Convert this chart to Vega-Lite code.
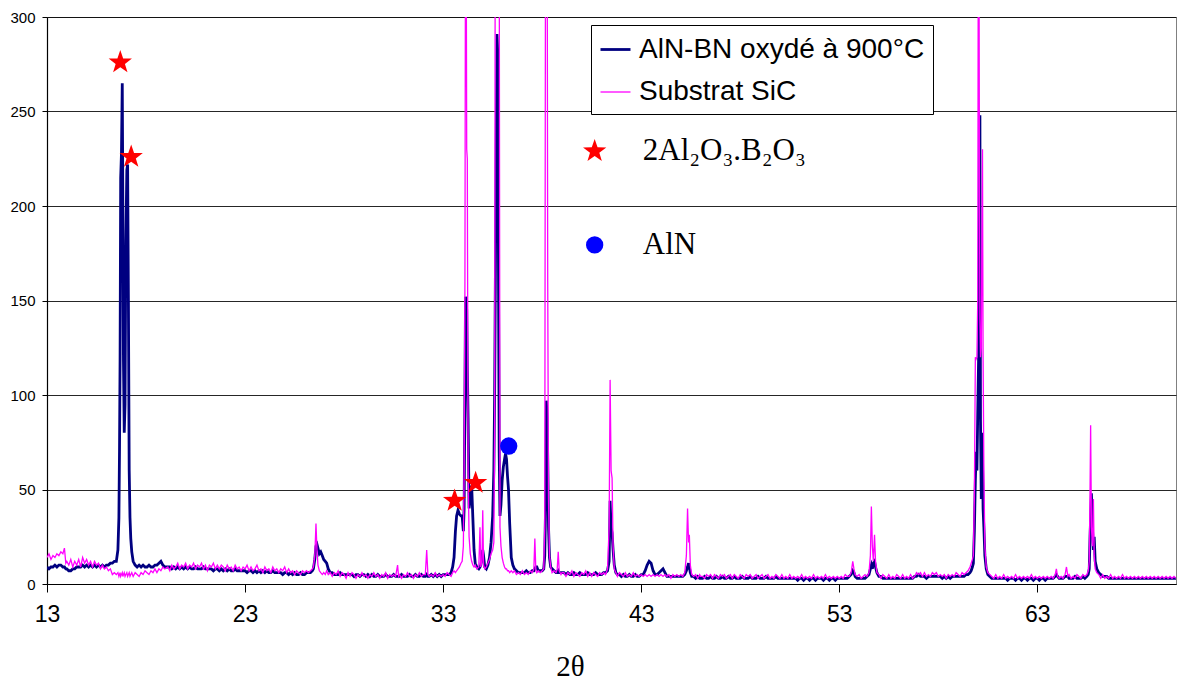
{
  "$schema": "https://vega.github.io/schema/vega-lite/v6.json",
  "width": 1129,
  "height": 567,
  "autosize": {"type": "none"},
  "padding": {"left": 47, "top": 17, "right": 2, "bottom": 99},
  "background": "white",
  "config": {
    "font": "Liberation Sans",
    "view": {"stroke": "#808080", "strokeWidth": 1},
    "axis": {"domainColor": "black", "tickColor": "black", "labelColor": "black", "titleColor": "black"}
  },
  "datasets": {
    "spectra": [
      {"x":13.0,"a":9,"b":14},{"x":13.1,"a":8,"b":16},{"x":13.2,"a":9,"b":13},{"x":13.3,"a":9,"b":15},{"x":13.4,"a":10,"b":14},
      {"x":13.5,"a":9,"b":16},{"x":13.6,"a":10,"b":15},{"x":13.7,"a":10,"b":17},{"x":13.8,"a":9,"b":16},{"x":13.88,"a":9,"b":19},
      {"x":13.95,"a":8,"b":11},{"x":14.0,"a":8,"b":12},{"x":14.1,"a":7,"b":10},{"x":14.2,"a":7,"b":13},{"x":14.3,"a":8,"b":9},
      {"x":14.4,"a":8,"b":12},{"x":14.5,"a":9,"b":10},{"x":14.6,"a":9,"b":13},{"x":14.7,"a":9,"b":9},{"x":14.8,"a":10,"b":14},
      {"x":14.9,"a":9,"b":11},{"x":15.0,"a":10,"b":13},{"x":15.1,"a":9,"b":10},{"x":15.2,"a":10,"b":12},{"x":15.3,"a":9,"b":9},
      {"x":15.4,"a":10,"b":12},{"x":15.5,"a":9,"b":10},{"x":15.6,"a":10,"b":11},{"x":15.7,"a":9,"b":8},{"x":15.8,"a":10,"b":10},
      {"x":15.9,"a":9,"b":8},{"x":16.0,"a":10,"b":9},{"x":16.1,"a":10,"b":7},{"x":16.2,"a":11,"b":8},{"x":16.3,"a":11,"b":5},
      {"x":16.4,"a":12,"b":6},{"x":16.5,"a":12,"b":5},{"x":16.58,"a":18,"b":6},{"x":16.63,"a":35,"b":4},{"x":16.66,"a":70,"b":5},
      {"x":16.69,"a":120,"b":6},{"x":16.72,"a":215,"b":4},{"x":16.76,"a":228,"b":5},{"x":16.8,"a":265,"b":6},{"x":16.83,"a":200,"b":4},
      {"x":16.86,"a":118,"b":5},{"x":16.9,"a":80,"b":6},{"x":16.94,"a":95,"b":4},{"x":16.98,"a":180,"b":5},{"x":17.03,"a":219,"b":6},
      {"x":17.07,"a":222,"b":4},{"x":17.11,"a":150,"b":5},{"x":17.15,"a":60,"b":6},{"x":17.19,"a":35,"b":4},{"x":17.23,"a":24,"b":5},
      {"x":17.28,"a":17,"b":6},{"x":17.35,"a":12,"b":4},{"x":17.45,"a":10,"b":6},{"x":17.55,"a":9,"b":5},{"x":17.65,"a":10,"b":4},
      {"x":17.75,"a":9,"b":6},{"x":17.85,"a":10,"b":5},{"x":17.95,"a":9,"b":7},{"x":18.05,"a":9,"b":6},{"x":18.15,"a":10,"b":5},
      {"x":18.25,"a":9,"b":7},{"x":18.35,"a":9,"b":6},{"x":18.45,"a":10,"b":8},{"x":18.55,"a":10,"b":6},{"x":18.65,"a":11,"b":8},
      {"x":18.75,"a":12,"b":7},{"x":18.85,"a":10,"b":9},{"x":18.95,"a":9,"b":8},{"x":19.1,"a":9,"b":9},{"x":19.2,"a":9,"b":7},
      {"x":19.3,"a":8,"b":10},{"x":19.4,"a":9,"b":8},{"x":19.5,"a":8,"b":9},{"x":19.6,"a":9,"b":11},{"x":19.7,"a":8,"b":8},
      {"x":19.8,"a":9,"b":10},{"x":19.9,"a":8,"b":9},{"x":20.0,"a":9,"b":11},{"x":20.1,"a":8,"b":8},{"x":20.2,"a":9,"b":10},
      {"x":20.3,"a":8,"b":9},{"x":20.4,"a":8,"b":11},{"x":20.5,"a":9,"b":8},{"x":20.6,"a":8,"b":10},{"x":20.7,"a":8,"b":9},
      {"x":20.8,"a":8,"b":11},{"x":20.9,"a":9,"b":8},{"x":21.0,"a":8,"b":10},{"x":21.1,"a":8,"b":7},{"x":21.2,"a":8,"b":10},
      {"x":21.3,"a":8,"b":9},{"x":21.4,"a":7,"b":11},{"x":21.5,"a":8,"b":8},{"x":21.6,"a":8,"b":10},{"x":21.7,"a":7,"b":8},
      {"x":21.8,"a":8,"b":10},{"x":21.9,"a":7,"b":9},{"x":22.0,"a":8,"b":7},{"x":22.1,"a":7,"b":10},{"x":22.2,"a":8,"b":8},
      {"x":22.3,"a":7,"b":9},{"x":22.4,"a":7,"b":7},{"x":22.5,"a":8,"b":10},{"x":22.6,"a":7,"b":8},{"x":22.7,"a":7,"b":9},
      {"x":22.8,"a":7,"b":7},{"x":22.9,"a":7,"b":9},{"x":23.0,"a":7,"b":8},{"x":23.1,"a":6,"b":10},{"x":23.2,"a":7,"b":7},
      {"x":23.3,"a":7,"b":9},{"x":23.4,"a":6,"b":7},{"x":23.5,"a":7,"b":8},{"x":23.6,"a":6,"b":10},{"x":23.7,"a":7,"b":7},
      {"x":23.8,"a":6,"b":8},{"x":23.9,"a":7,"b":6},{"x":24.0,"a":6,"b":9},{"x":24.1,"a":7,"b":7},{"x":24.2,"a":6,"b":8},
      {"x":24.3,"a":6,"b":6},{"x":24.4,"a":7,"b":9},{"x":24.5,"a":6,"b":7},{"x":24.6,"a":6,"b":8},{"x":24.7,"a":6,"b":6},
      {"x":24.8,"a":6,"b":8},{"x":24.9,"a":5,"b":7},{"x":25.0,"a":6,"b":9},{"x":25.1,"a":6,"b":6},{"x":25.2,"a":5,"b":8},
      {"x":25.3,"a":6,"b":6},{"x":25.4,"a":5,"b":7},{"x":25.5,"a":6,"b":5},{"x":25.6,"a":5,"b":7},{"x":25.7,"a":5,"b":6},
      {"x":25.8,"a":6,"b":5},{"x":25.9,"a":5,"b":7},{"x":26.0,"a":5,"b":6},{"x":26.1,"a":6,"b":7},{"x":26.2,"a":6,"b":6},
      {"x":26.3,"a":6,"b":7},{"x":26.4,"a":7,"b":8},{"x":26.45,"a":8,"b":9},{"x":26.52,"a":13,"b":15},{"x":26.58,"a":20,"b":32},
      {"x":26.63,"a":21,"b":18},{"x":26.68,"a":19,"b":10},{"x":26.75,"a":16,"b":7},{"x":26.82,"a":17,"b":6},{"x":26.9,"a":15,"b":5},
      {"x":26.97,"a":13,"b":6},{"x":27.05,"a":12,"b":5},{"x":27.12,"a":11,"b":7},{"x":27.2,"a":8,"b":5},{"x":27.3,"a":6,"b":6},
      {"x":27.4,"a":6,"b":4},{"x":27.5,"a":5,"b":6},{"x":27.6,"a":5,"b":5},{"x":27.7,"a":5,"b":7},{"x":27.8,"a":6,"b":4},
      {"x":27.9,"a":5,"b":6},{"x":28.0,"a":5,"b":5},{"x":28.1,"a":5,"b":3},{"x":28.2,"a":5,"b":6},{"x":28.3,"a":5,"b":4},
      {"x":28.4,"a":5,"b":6},{"x":28.5,"a":4,"b":5},{"x":28.6,"a":5,"b":3},{"x":28.7,"a":5,"b":5},{"x":28.8,"a":4,"b":4},
      {"x":28.9,"a":5,"b":6},{"x":29.0,"a":5,"b":4},{"x":29.1,"a":4,"b":5},{"x":29.2,"a":5,"b":3},{"x":29.3,"a":4,"b":5},
      {"x":29.4,"a":5,"b":4},{"x":29.5,"a":4,"b":6},{"x":29.6,"a":4,"b":4},{"x":29.7,"a":5,"b":5},{"x":29.8,"a":4,"b":3},
      {"x":29.9,"a":4,"b":5},{"x":30.0,"a":4,"b":4},{"x":30.1,"a":5,"b":6},{"x":30.2,"a":4,"b":3},{"x":30.3,"a":4,"b":5},
      {"x":30.4,"a":4,"b":4},{"x":30.5,"a":5,"b":5},{"x":30.6,"a":4,"b":4},{"x":30.7,"a":4,"b":10},{"x":30.75,"a":4,"b":4},
      {"x":30.8,"a":4,"b":5},{"x":30.9,"a":5,"b":3},{"x":31.0,"a":4,"b":5},{"x":31.1,"a":4,"b":4},{"x":31.2,"a":4,"b":6},
      {"x":31.3,"a":5,"b":4},{"x":31.4,"a":4,"b":5},{"x":31.5,"a":4,"b":3},{"x":31.6,"a":5,"b":5},{"x":31.7,"a":4,"b":4},
      {"x":31.8,"a":4,"b":6},{"x":31.9,"a":5,"b":4},{"x":32.0,"a":4,"b":5},{"x":32.1,"a":4,"b":5},{"x":32.17,"a":5,"b":18},
      {"x":32.23,"a":4,"b":5},{"x":32.3,"a":4,"b":4},{"x":32.4,"a":5,"b":5},{"x":32.5,"a":4,"b":4},{"x":32.6,"a":5,"b":6},
      {"x":32.7,"a":4,"b":4},{"x":32.8,"a":5,"b":5},{"x":32.9,"a":4,"b":4},{"x":33.0,"a":5,"b":5},{"x":33.1,"a":5,"b":4},
      {"x":33.2,"a":5,"b":6},{"x":33.3,"a":5,"b":5},{"x":33.4,"a":6,"b":4},{"x":33.48,"a":9,"b":6},{"x":33.55,"a":14,"b":7},
      {"x":33.62,"a":28,"b":6},{"x":33.68,"a":36,"b":7},{"x":33.75,"a":39,"b":8},{"x":33.82,"a":37,"b":9},{"x":33.9,"a":36,"b":11},
      {"x":33.96,"a":36,"b":12},{"x":34.02,"a":28,"b":20},{"x":34.06,"a":40,"b":60},{"x":34.1,"a":100,"b":160},{"x":34.13,"a":152,"b":360},
      {"x":34.16,"a":150,"b":360},{"x":34.19,"a":145,"b":230},{"x":34.22,"a":115,"b":225},{"x":34.26,"a":88,"b":60},{"x":34.31,"a":40,"b":25},
      {"x":34.37,"a":45,"b":16},{"x":34.44,"a":52,"b":12},{"x":34.5,"a":35,"b":10},{"x":34.56,"a":18,"b":9},{"x":34.62,"a":11,"b":10},
      {"x":34.7,"a":9,"b":8},{"x":34.8,"a":8,"b":9},{"x":34.86,"a":9,"b":30},{"x":34.9,"a":10,"b":9},{"x":34.96,"a":14,"b":12},
      {"x":35.0,"a":18,"b":39},{"x":35.04,"a":15,"b":10},{"x":35.1,"a":9,"b":8},{"x":35.18,"a":8,"b":9},{"x":35.26,"a":10,"b":11},
      {"x":35.34,"a":14,"b":13},{"x":35.42,"a":22,"b":16},{"x":35.5,"a":36,"b":18},{"x":35.56,"a":60,"b":22},{"x":35.6,"a":100,"b":80},
      {"x":35.63,"a":150,"b":360},{"x":35.67,"a":220,"b":360},{"x":35.72,"a":291,"b":360},{"x":35.76,"a":280,"b":360},{"x":35.8,"a":150,"b":360},
      {"x":35.83,"a":70,"b":360},{"x":35.87,"a":36,"b":30},{"x":35.92,"a":42,"b":20},{"x":35.98,"a":55,"b":14},{"x":36.04,"a":62,"b":11},
      {"x":36.1,"a":66,"b":9},{"x":36.15,"a":69,"b":8},{"x":36.2,"a":66,"b":8},{"x":36.25,"a":57,"b":7},{"x":36.3,"a":50,"b":7},
      {"x":36.36,"a":32,"b":6},{"x":36.44,"a":14,"b":7},{"x":36.52,"a":10,"b":6},{"x":36.6,"a":8,"b":7},{"x":36.7,"a":7,"b":5},
      {"x":36.8,"a":6,"b":6},{"x":36.9,"a":6,"b":5},{"x":37.0,"a":6,"b":7},{"x":37.1,"a":6,"b":5},{"x":37.2,"a":7,"b":6},
      {"x":37.3,"a":6,"b":5},{"x":37.4,"a":6,"b":7},{"x":37.5,"a":7,"b":6},{"x":37.58,"a":7,"b":8},{"x":37.63,"a":8,"b":24},
      {"x":37.68,"a":9,"b":7},{"x":37.73,"a":9,"b":6},{"x":37.8,"a":7,"b":7},{"x":37.9,"a":7,"b":6},{"x":38.0,"a":7,"b":7},
      {"x":38.08,"a":8,"b":8},{"x":38.13,"a":15,"b":30},{"x":38.17,"a":40,"b":360},{"x":38.21,"a":97,"b":360},{"x":38.25,"a":88,"b":360},
      {"x":38.28,"a":67,"b":160},{"x":38.32,"a":30,"b":45},{"x":38.37,"a":14,"b":15},{"x":38.43,"a":9,"b":9},{"x":38.5,"a":8,"b":6},
      {"x":38.6,"a":7,"b":7},{"x":38.7,"a":6,"b":6},{"x":38.76,"a":6,"b":8},{"x":38.81,"a":7,"b":17},{"x":38.86,"a":6,"b":7},
      {"x":38.95,"a":6,"b":5},{"x":39.0,"a":6,"b":6},{"x":39.1,"a":6,"b":6},{"x":39.2,"a":5,"b":4},{"x":39.3,"a":6,"b":6},
      {"x":39.4,"a":5,"b":5},{"x":39.5,"a":5,"b":7},{"x":39.6,"a":6,"b":4},{"x":39.7,"a":5,"b":6},{"x":39.8,"a":5,"b":5},
      {"x":39.9,"a":6,"b":4},{"x":40.0,"a":5,"b":6},{"x":40.1,"a":5,"b":5},{"x":40.2,"a":5,"b":7},{"x":40.3,"a":6,"b":4},
      {"x":40.4,"a":5,"b":6},{"x":40.5,"a":5,"b":4},{"x":40.6,"a":5,"b":6},{"x":40.7,"a":6,"b":5},{"x":40.8,"a":5,"b":4},
      {"x":40.9,"a":5,"b":6},{"x":41.0,"a":5,"b":5},{"x":41.1,"a":6,"b":6},{"x":41.2,"a":6,"b":5},{"x":41.3,"a":7,"b":8},
      {"x":41.38,"a":12,"b":30},{"x":41.43,"a":44,"b":108},{"x":41.48,"a":30,"b":60},{"x":41.53,"a":27,"b":56},{"x":41.58,"a":18,"b":20},
      {"x":41.64,"a":10,"b":8},{"x":41.72,"a":6,"b":6},{"x":41.8,"a":5,"b":4},{"x":41.9,"a":5,"b":6},{"x":42.0,"a":4,"b":5},
      {"x":42.1,"a":5,"b":4},{"x":42.2,"a":4,"b":6},{"x":42.3,"a":4,"b":4},{"x":42.4,"a":5,"b":5},{"x":42.5,"a":4,"b":4},
      {"x":42.6,"a":4,"b":6},{"x":42.7,"a":5,"b":4},{"x":42.8,"a":4,"b":5},{"x":42.9,"a":4,"b":4},{"x":43.0,"a":5,"b":5},
      {"x":43.1,"a":5,"b":4},{"x":43.2,"a":7,"b":5},{"x":43.3,"a":10,"b":4},{"x":43.4,"a":12,"b":5},{"x":43.5,"a":11,"b":4},
      {"x":43.6,"a":7,"b":5},{"x":43.7,"a":5,"b":4},{"x":43.8,"a":5,"b":5},{"x":43.9,"a":6,"b":4},{"x":44.0,"a":7,"b":5},
      {"x":44.1,"a":8,"b":4},{"x":44.2,"a":6,"b":5},{"x":44.3,"a":4,"b":4},{"x":44.4,"a":4,"b":5},{"x":44.5,"a":4,"b":3},
      {"x":44.6,"a":4,"b":5},{"x":44.7,"a":4,"b":4},{"x":44.8,"a":4,"b":5},{"x":44.9,"a":4,"b":4},{"x":45.0,"a":4,"b":5},
      {"x":45.1,"a":4,"b":4},{"x":45.2,"a":5,"b":6},{"x":45.28,"a":7,"b":15},{"x":45.34,"a":9,"b":40},{"x":45.39,"a":11,"b":22},
      {"x":45.43,"a":9,"b":26},{"x":45.48,"a":6,"b":10},{"x":45.55,"a":4,"b":5},{"x":45.65,"a":4,"b":4},{"x":45.75,"a":3,"b":5},
      {"x":45.85,"a":4,"b":3},{"x":45.95,"a":3,"b":5},{"x":46.0,"a":3,"b":4},{"x":46.1,"a":3,"b":4},{"x":46.2,"a":4,"b":3},
      {"x":46.3,"a":3,"b":5},{"x":46.4,"a":3,"b":4},{"x":46.5,"a":4,"b":5},{"x":46.6,"a":3,"b":3},{"x":46.7,"a":3,"b":5},
      {"x":46.8,"a":4,"b":4},{"x":46.9,"a":3,"b":3},{"x":47.0,"a":3,"b":5},{"x":47.1,"a":4,"b":4},{"x":47.2,"a":3,"b":5},
      {"x":47.3,"a":3,"b":3},{"x":47.4,"a":4,"b":4},{"x":47.5,"a":3,"b":5},{"x":47.6,"a":3,"b":3},{"x":47.7,"a":4,"b":5},
      {"x":47.8,"a":3,"b":4},{"x":47.9,"a":3,"b":3},{"x":48.0,"a":3,"b":5},{"x":48.1,"a":4,"b":4},{"x":48.2,"a":3,"b":3},
      {"x":48.3,"a":3,"b":5},{"x":48.4,"a":3,"b":4},{"x":48.5,"a":4,"b":5},{"x":48.6,"a":3,"b":3},{"x":48.7,"a":3,"b":4},
      {"x":48.8,"a":3,"b":5},{"x":48.9,"a":4,"b":3},{"x":49.0,"a":3,"b":4},{"x":49.1,"a":3,"b":5},{"x":49.2,"a":3,"b":3},
      {"x":49.3,"a":4,"b":4},{"x":49.4,"a":3,"b":5},{"x":49.5,"a":3,"b":3},{"x":49.6,"a":3,"b":4},{"x":49.7,"a":3,"b":3},
      {"x":49.8,"a":4,"b":5},{"x":49.9,"a":3,"b":4},{"x":50.0,"a":3,"b":3},{"x":50.1,"a":3,"b":5},{"x":50.2,"a":3,"b":3},
      {"x":50.3,"a":3,"b":4},{"x":50.4,"a":3,"b":3},{"x":50.5,"a":3,"b":5},{"x":50.6,"a":3,"b":3},{"x":50.7,"a":3,"b":4},
      {"x":50.8,"a":3,"b":3},{"x":50.9,"a":2,"b":4},{"x":51.0,"a":3,"b":3},{"x":51.1,"a":3,"b":5},{"x":51.2,"a":2,"b":3},
      {"x":51.3,"a":3,"b":4},{"x":51.4,"a":3,"b":3},{"x":51.5,"a":2,"b":4},{"x":51.6,"a":3,"b":3},{"x":51.7,"a":3,"b":5},
      {"x":51.8,"a":2,"b":3},{"x":51.9,"a":3,"b":4},{"x":52.0,"a":3,"b":3},{"x":52.1,"a":3,"b":4},{"x":52.2,"a":2,"b":3},
      {"x":52.3,"a":3,"b":5},{"x":52.4,"a":3,"b":3},{"x":52.5,"a":2,"b":4},{"x":52.6,"a":3,"b":3},{"x":52.7,"a":3,"b":4},
      {"x":52.8,"a":2,"b":3},{"x":52.9,"a":3,"b":4},{"x":53.0,"a":3,"b":3},{"x":53.1,"a":3,"b":4},{"x":53.2,"a":3,"b":3},
      {"x":53.3,"a":3,"b":5},{"x":53.4,"a":3,"b":4},{"x":53.5,"a":4,"b":4},{"x":53.6,"a":5,"b":6},{"x":53.68,"a":7,"b":12},
      {"x":53.74,"a":6,"b":8},{"x":53.8,"a":4,"b":5},{"x":53.9,"a":3,"b":4},{"x":54.0,"a":3,"b":5},{"x":54.1,"a":3,"b":3},
      {"x":54.2,"a":3,"b":4},{"x":54.3,"a":3,"b":5},{"x":54.4,"a":4,"b":4},{"x":54.5,"a":5,"b":6},{"x":54.57,"a":8,"b":15},
      {"x":54.62,"a":10,"b":41},{"x":54.67,"a":8,"b":20},{"x":54.72,"a":11,"b":12},{"x":54.78,"a":12,"b":26},{"x":54.83,"a":9,"b":12},
      {"x":54.9,"a":6,"b":6},{"x":55.0,"a":4,"b":5},{"x":55.1,"a":4,"b":3},{"x":55.2,"a":3,"b":5},{"x":55.3,"a":3,"b":4},
      {"x":55.4,"a":3,"b":3},{"x":55.5,"a":3,"b":5},{"x":55.6,"a":3,"b":3},{"x":55.7,"a":3,"b":4},{"x":55.8,"a":3,"b":3},
      {"x":55.9,"a":3,"b":5},{"x":56.0,"a":3,"b":4},{"x":56.1,"a":3,"b":3},{"x":56.2,"a":3,"b":5},{"x":56.3,"a":3,"b":3},
      {"x":56.4,"a":3,"b":4},{"x":56.5,"a":3,"b":3},{"x":56.6,"a":3,"b":5},{"x":56.7,"a":3,"b":3},{"x":56.8,"a":4,"b":4},
      {"x":56.9,"a":4,"b":6},{"x":57.0,"a":5,"b":5},{"x":57.1,"a":4,"b":6},{"x":57.2,"a":4,"b":4},{"x":57.3,"a":4,"b":6},
      {"x":57.4,"a":3,"b":4},{"x":57.5,"a":4,"b":5},{"x":57.6,"a":4,"b":4},{"x":57.7,"a":4,"b":6},{"x":57.8,"a":4,"b":5},
      {"x":57.9,"a":4,"b":6},{"x":58.0,"a":4,"b":4},{"x":58.1,"a":4,"b":5},{"x":58.2,"a":3,"b":4},{"x":58.3,"a":4,"b":5},
      {"x":58.4,"a":3,"b":3},{"x":58.5,"a":4,"b":5},{"x":58.6,"a":3,"b":4},{"x":58.7,"a":4,"b":5},{"x":58.8,"a":4,"b":4},
      {"x":58.9,"a":4,"b":6},{"x":59.0,"a":4,"b":5},{"x":59.1,"a":4,"b":4},{"x":59.2,"a":4,"b":6},{"x":59.3,"a":4,"b":5},
      {"x":59.4,"a":5,"b":6},{"x":59.5,"a":5,"b":7},{"x":59.6,"a":6,"b":9},{"x":59.66,"a":7,"b":11},{"x":59.72,"a":9,"b":13},
      {"x":59.77,"a":11,"b":15},{"x":59.82,"a":28,"b":45},{"x":59.87,"a":55,"b":120},{"x":59.91,"a":70,"b":119},{"x":59.95,"a":60,"b":120},
      {"x":59.99,"a":90,"b":150},{"x":60.02,"a":110,"b":360},{"x":60.05,"a":130,"b":360},{"x":60.08,"a":200,"b":200},{"x":60.1,"a":248,"b":140},
      {"x":60.13,"a":86,"b":120},{"x":60.17,"a":45,"b":125},{"x":60.21,"a":80,"b":200},{"x":60.23,"a":70,"b":230},{"x":60.26,"a":40,"b":121},
      {"x":60.3,"a":30,"b":60},{"x":60.35,"a":15,"b":20},{"x":60.42,"a":8,"b":9},{"x":60.5,"a":5,"b":6},{"x":60.6,"a":4,"b":5},
      {"x":60.7,"a":3,"b":4},{"x":60.8,"a":3,"b":3},{"x":60.9,"a":3,"b":5},{"x":61.0,"a":3,"b":3},{"x":61.1,"a":3,"b":4},
      {"x":61.2,"a":3,"b":3},{"x":61.3,"a":3,"b":5},{"x":61.4,"a":3,"b":3},{"x":61.5,"a":2,"b":4},{"x":61.6,"a":3,"b":3},
      {"x":61.7,"a":3,"b":4},{"x":61.8,"a":3,"b":3},{"x":61.9,"a":2,"b":5},{"x":62.0,"a":3,"b":3},{"x":62.1,"a":3,"b":4},
      {"x":62.2,"a":2,"b":3},{"x":62.3,"a":3,"b":4},{"x":62.4,"a":3,"b":3},{"x":62.5,"a":2,"b":4},{"x":62.6,"a":3,"b":3},
      {"x":62.7,"a":3,"b":5},{"x":62.8,"a":2,"b":3},{"x":62.9,"a":3,"b":4},{"x":63.0,"a":3,"b":3},{"x":63.1,"a":2,"b":4},
      {"x":63.2,"a":3,"b":3},{"x":63.3,"a":3,"b":4},{"x":63.4,"a":2,"b":3},{"x":63.5,"a":3,"b":4},{"x":63.6,"a":3,"b":3},
      {"x":63.7,"a":3,"b":4},{"x":63.8,"a":3,"b":3},{"x":63.9,"a":4,"b":5},{"x":63.96,"a":5,"b":8},{"x":64.02,"a":4,"b":4},
      {"x":64.1,"a":3,"b":3},{"x":64.2,"a":3,"b":4},{"x":64.3,"a":3,"b":3},{"x":64.4,"a":4,"b":5},{"x":64.47,"a":4,"b":9},
      {"x":64.54,"a":4,"b":4},{"x":64.6,"a":3,"b":5},{"x":64.7,"a":3,"b":3},{"x":64.8,"a":3,"b":4},{"x":64.9,"a":4,"b":3},
      {"x":65.0,"a":3,"b":5},{"x":65.1,"a":3,"b":4},{"x":65.2,"a":3,"b":3},{"x":65.3,"a":4,"b":5},{"x":65.4,"a":3,"b":4},
      {"x":65.5,"a":4,"b":5},{"x":65.57,"a":5,"b":7},{"x":65.62,"a":8,"b":12},{"x":65.66,"a":25,"b":50},{"x":65.69,"a":35,"b":84},
      {"x":65.73,"a":48,"b":30},{"x":65.78,"a":30,"b":20},{"x":65.83,"a":18,"b":45},{"x":65.87,"a":25,"b":15},{"x":65.92,"a":12,"b":8},
      {"x":66.0,"a":8,"b":6},{"x":66.1,"a":6,"b":5},{"x":66.2,"a":5,"b":3},{"x":66.3,"a":4,"b":5},{"x":66.4,"a":4,"b":3},
      {"x":66.5,"a":4,"b":4},{"x":66.6,"a":3,"b":3},{"x":66.7,"a":3,"b":5},{"x":66.8,"a":3,"b":3},{"x":66.9,"a":3,"b":4},
      {"x":67.0,"a":3,"b":3},{"x":67.1,"a":3,"b":4},{"x":67.2,"a":3,"b":3},{"x":67.3,"a":3,"b":5},{"x":67.4,"a":3,"b":3},
      {"x":67.5,"a":3,"b":4},{"x":67.6,"a":3,"b":3},{"x":67.7,"a":3,"b":4},{"x":67.8,"a":3,"b":3},{"x":67.9,"a":3,"b":4},
      {"x":68.0,"a":3,"b":3},{"x":68.1,"a":3,"b":4},{"x":68.2,"a":3,"b":3},{"x":68.3,"a":3,"b":4},{"x":68.4,"a":3,"b":3},
      {"x":68.5,"a":3,"b":4},{"x":68.6,"a":3,"b":3},{"x":68.7,"a":3,"b":4},{"x":68.8,"a":3,"b":3},{"x":68.9,"a":3,"b":4},
      {"x":69.0,"a":3,"b":3},{"x":69.1,"a":3,"b":4},{"x":69.2,"a":3,"b":3},{"x":69.3,"a":3,"b":4},{"x":69.4,"a":3,"b":3},
      {"x":69.5,"a":3,"b":4},{"x":69.6,"a":3,"b":3},{"x":69.7,"a":3,"b":4},{"x":69.8,"a":3,"b":3},{"x":69.9,"a":3,"b":4},
      {"x":70.0,"a":3,"b":3}
    ],
    "stars": [
      {"x":16.70,"y":276},{"x":17.25,"y":226},{"x":33.58,"y":44},{"x":34.64,"y":53.5},{"x":40.65,"y":229}
    ],
    "circles": [
      {"x":36.31,"y":73},{"x":40.65,"y":179.4}
    ],
    "labels": [
      {"x":43.08,"y":229,"label":"2Al₂O₃.B₂O₃"},
      {"x":43.08,"y":179.4,"label":"AlN"}
    ]
  },
  "layer": [
    {
      "data": {"name": "spectra"},
      "transform": [{"fold": ["a", "b"], "as": ["s", "y"]}],
      "mark": {"type": "line", "clip": true, "interpolate": "linear"},
      "encoding": {
        "x": {
          "field": "x", "type": "quantitative",
          "scale": {"domain": [13, 70], "nice": false, "zero": false},
          "axis": {
            "values": [13, 23, 33, 43, 53, 63],
            "grid": false,
            "title": "2θ",
            "titleFont": "Liberation Serif",
            "titleFontSize": 29,
            "titleFontWeight": "normal",
            "titleX": 523,
            "titleY": 82,
            "titleBaseline": "middle",
            "labelFontSize": 23,
            "labelPadding": 11,
            "labelFlush": false,
            "tickSize": 8,
            "domainWidth": 1.2
          }
        },
        "y": {
          "field": "y", "type": "quantitative",
          "scale": {"domain": [0, 300], "nice": false},
          "axis": {
            "values": [0, 50, 100, 150, 200, 250, 300],
            "title": null,
            "grid": true,
            "gridColor": "black",
            "gridOpacity": 0.85,
            "labelFontSize": 15,
            "labelPadding": 7,
            "tickSize": 5,
            "domainWidth": 1.2
          }
        },
        "color": {
          "field": "s", "type": "nominal",
          "scale": {"domain": ["a", "b"], "range": ["#000080", "#FF00FF"]},
          "legend": {
            "title": null,
            "orient": "none",
            "legendX": 544,
            "legendY": 8,
            "padding": 8,
            "fillColor": "white",
            "strokeColor": "black",
            "symbolType": "stroke",
            "symbolSize": 900,
            "labelFontSize": 28,
            "labelOffset": 7,
            "labelLimit": 0,
            "rowPadding": 12,
            "labelExpr": "datum.label == 'a' ? 'AlN-BN oxydé à 900°C' : 'Substrat SiC'"
          }
        },
        "strokeWidth": {
          "field": "s", "type": "nominal",
          "scale": {"domain": ["a", "b"], "range": [2.8, 1.3]}
        }
      }
    },
    {
      "data": {"name": "stars"},
      "mark": {
        "type": "point",
        "shape": "M0,-1L0.235,-0.324L0.951,-0.309L0.38,0.124L0.588,0.809L0,0.4L-0.588,0.809L-0.38,0.124L-0.951,-0.309L-0.235,-0.324Z",
        "filled": true,
        "color": "#FF0000",
        "opacity": 1,
        "size": 600,
        "strokeWidth": 0
      },
      "encoding": {
        "x": {"field": "x", "type": "quantitative"},
        "y": {"field": "y", "type": "quantitative"}
      }
    },
    {
      "data": {"name": "circles"},
      "mark": {"type": "circle", "color": "#0000FF", "opacity": 1, "size": 300},
      "encoding": {
        "x": {"field": "x", "type": "quantitative"},
        "y": {"field": "y", "type": "quantitative"}
      }
    },
    {
      "data": {"name": "labels"},
      "mark": {"type": "text", "align": "left", "baseline": "middle", "font": "Liberation Serif", "fontSize": 31, "color": "black"},
      "encoding": {
        "x": {"field": "x", "type": "quantitative"},
        "y": {"field": "y", "type": "quantitative"},
        "text": {"field": "label"}
      }
    }
  ]
}
